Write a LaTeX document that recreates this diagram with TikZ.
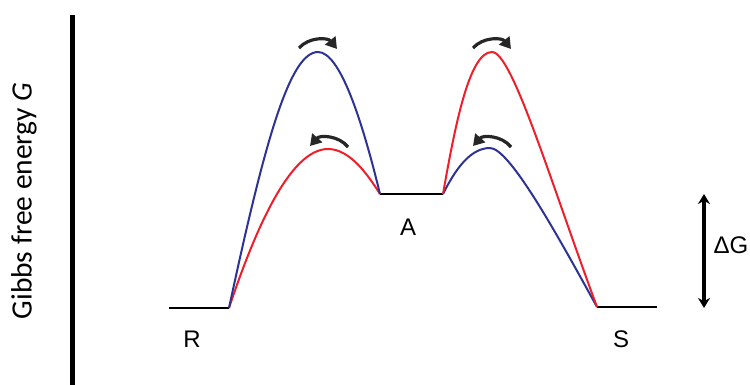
\documentclass[tikz,border=0pt]{standalone}
\usepackage{fontspec}
\setmainfont{Liberation Sans}
\newfontfamily\calibrifont{Carlito}
\usetikzlibrary{arrows.meta}
\definecolor{pfadrot}{RGB}{240,30,40}
\definecolor{pfadblau}{RGB}{45,50,150}

\begin{document}
\begin{tikzpicture}[
        x=1pt, y=-1pt,
        font=\fontsize{24}{28}\selectfont,
        level/.style={line width=2.8pt, black},
        pathred/.style={line width=2pt, pfadrot},
        pathblue/.style={line width=2pt, pfadblau},
        turnarrow/.style={
            line width=3.2pt,
            black!85,
            -{Triangle[length=11pt,width=13pt]}
        },
        levellabel/.style={inner sep=0pt}
    ]
    \useasboundingbox (0,0) rectangle (750,385);
    % Achse
    \coordinate (axtop) at (72.5,15);
    \coordinate (axbot) at (72.5,385);
    \draw[line width=4.5pt] (axtop) -- (axbot);
    \node[rotate=90, font=\calibrifont\fontsize{29.5}{33}\selectfont] (ylabel) at (24,201)
        {Gibbs free energy \textit{G}};
    % Niveaus
    \coordinate (r1) at (169,308);
    \coordinate (r2) at (229,308);
    \coordinate (a1) at (380,194);
    \coordinate (a2) at (443,194);
    \coordinate (s1) at (597,307);
    \coordinate (s2) at (657,307);
    \draw[level] (r1) -- (r2);
    \draw[level] (a1) -- (a2);
    \draw[level] (s1) -- (s2);
    \node[levellabel] (rlabel) at (192,339) {R};
    \node[levellabel] (alabel) at (408,227) {A};
    \node[levellabel] (slabel) at (621,339) {S};
    % Übergangszustände
    \coordinate (tsblue1) at (318,52);
    \coordinate (tsred1) at (328,149);
    \coordinate (tsred2) at (492,52);
    \coordinate (tsblue2) at (490,148);
    % Wege R -> A
    \draw[pathred] (r2) .. controls (255,230) and (290,149) .. (tsred1)
        .. controls (350,149) and (368,175) .. (a1);
    \draw[pathblue] (r2) .. controls (265,140) and (290,52) .. (tsblue1)
        .. controls (340,52) and (362,120) .. (a1);
    % Wege A -> S
    \draw[pathblue] (a2) .. controls (455,170) and (470,148) .. (tsblue2)
        .. controls (510,148) and (560,240) .. (s1);
    \draw[pathred] (a2) .. controls (456,120) and (470,52) .. (tsred2)
        .. controls (512,52) and (550,180) .. (s1);
    % Drehpfeile
    \coordinate (p1a) at (299,48);
    \coordinate (p1b) at (337,49);
    \coordinate (p2a) at (348,147);
    \coordinate (p2b) at (310,146);
    \coordinate (p3a) at (473,48);
    \coordinate (p3b) at (511,49);
    \coordinate (p4a) at (511,147);
    \coordinate (p4b) at (473,146);
    \draw[turnarrow] (p1a) to[bend left=50] (p1b);
    \draw[turnarrow] (p2a) to[bend right=50] (p2b);
    \draw[turnarrow] (p3a) to[bend left=50] (p3b);
    \draw[turnarrow] (p4a) to[bend right=50] (p4b);
    % Delta G
    \coordinate (dgtop) at (704,194);
    \coordinate (dgbot) at (704,308);
    \draw[line width=3.4pt, {Stealth[length=10pt,width=12pt]}-{Stealth[length=10pt,width=12pt]}]
        (dgtop) -- (dgbot);
    \node[levellabel] (dglabel) at (731,245) {ΔG};
\end{tikzpicture}
\end{document}
